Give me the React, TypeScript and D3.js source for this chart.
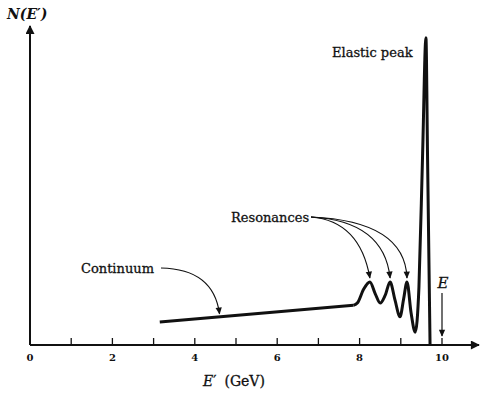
import React from 'react';
import * as d3 from 'd3';

// continuum (straight part), arbitrary count units
const continuumEnergy = [3.15, 7.85];
const continuumCounts = [7.2, 12.4];

// resonance region + elastic peak
const peakEnergy = [7.85, 7.95, 8.1, 8.25, 8.38, 8.5, 8.62, 8.74, 8.86, 8.98, 9.07, 9.15, 9.25, 9.35, 9.44, 9.53, 9.61, 9.65, 9.71];
const peakCounts = [12.4, 13.2, 17.5, 19.7, 16, 13.1, 15.5, 19.7, 14, 8.8, 14.5, 19.7, 10, 4.0, 18, 60, 96, 58, 0];

const xTicks = [1, 2, 3, 4, 5, 6, 7, 8, 9, 10];
const xLabels = [0, 2, 4, 6, 8, 10];
const resonancePeaks = [8.25, 8.74, 9.15];
const continuumArrowAt = 4.6;
const beamEnergy = 10;

const W = 481;
const H = 394;
const FONT = '"DejaVu Serif", "Liberation Serif", serif';

export default function App() {
  const x = d3.scaleLinear().domain([0, 10]).range([30, 442]);
  const y = d3.scaleLinear().domain([0, 100]).range([345, 25]);

  const contPts: [number, number][] = continuumEnergy.map((e, i) => [e, continuumCounts[i]]);
  const peakPts: [number, number][] = peakEnergy.map((e, i) => [e, peakCounts[i]]);

  const straight = d3.line<[number, number]>().x(d => x(d[0])).y(d => y(d[1]));
  const smooth = d3.line<[number, number]>()
    .x(d => x(d[0]))
    .y(d => y(d[1]))
    .curve(d3.curveMonotoneX);

  const contAt = (e: number) => {
    const t = (e - continuumEnergy[0]) / (continuumEnergy[1] - continuumEnergy[0]);
    return continuumCounts[0] + t * (continuumCounts[1] - continuumCounts[0]);
  };

  const resStart = [311, 217];
  const contStart = [161, 268];
  const cx = x(continuumArrowAt);
  const cy = y(contAt(continuumArrowAt)) - 3;

  // slightly heavier than regular, like the printed labels
  const label = { fontFamily: FONT, fill: '#111', stroke: '#111', strokeWidth: 0.3 } as const;

  return (
    <svg width={W} height={H} style={{ position: 'absolute', left: 0, top: 0, background: '#fff' }}>
      <defs>
        <marker id="ah" viewBox="0 0 10 10" refX="9" refY="5" markerWidth="8" markerHeight="7" orient="auto" markerUnits="userSpaceOnUse">
          <path d="M0,0.5 L10,5 L0,9.5 Z" fill="#111" />
        </marker>
        <marker id="axh" viewBox="0 0 10 10" refX="9" refY="5" markerWidth="12" markerHeight="9" orient="auto" markerUnits="userSpaceOnUse">
          <path d="M0,0 L10,5 L0,10 Z" fill="#111" />
        </marker>
      </defs>

      {/* axes */}
      <line x1={x(0)} y1={y(0)} x2={479} y2={y(0)} stroke="#111" strokeWidth={2} markerEnd="url(#axh)" />
      <line x1={x(0)} y1={y(0)} x2={x(0)} y2={26} stroke="#111" strokeWidth={2} markerEnd="url(#axh)" />

      {xTicks.map(t => (
        <line key={t} x1={x(t)} x2={x(t)} y1={y(0)} y2={y(0) - 7} stroke="#111" strokeWidth={1.3} />
      ))}
      {xLabels.map(t => (
        <text key={t} x={x(t)} y={361} textAnchor="middle" fontSize={10} fontWeight="bold" fontFamily={FONT} fill="#111">{t}</text>
      ))}

      <text x={203} y={386} fontSize={14} {...label}>
        <tspan fontStyle="italic">E</tspan><tspan>′</tspan><tspan dx={8}>(GeV)</tspan>
      </text>
      <text x={7} y={19} fontSize={14} fontStyle="italic" fontWeight="bold" fontFamily={FONT} fill="#111">N(E′)</text>

      {/* spectrum */}
      <path d={straight(contPts) ?? ''} fill="none" stroke="#111" strokeWidth={3} strokeLinecap="butt" />
      <path d={smooth(peakPts) ?? ''} fill="none" stroke="#111" strokeWidth={3} strokeLinejoin="round" />

      {/* annotations */}
      <text x={332} y={57} fontSize={13} {...label}>Elastic  peak</text>

      <text x={231} y={222} fontSize={13} {...label}>Resonances</text>
      {resonancePeaks.map((e, i) => {
        const tx = x(e);
        const ty = y(peakCounts[peakEnergy.indexOf(e)]) - 4;
        return (
          <path key={e}
            d={`M${resStart[0]},${resStart[1]} Q${tx - 10 + i * 4},${resStart[1] + 4} ${tx},${ty}`}
            fill="none" stroke="#111" strokeWidth={1.2} markerEnd="url(#ah)" />
        );
      })}

      <text x={81} y={273} fontSize={13} {...label}>Continuum</text>
      <path d={`M${contStart[0]},${contStart[1]} Q${cx - 6},${contStart[1] + 1} ${cx},${cy}`}
        fill="none" stroke="#111" strokeWidth={1.2} markerEnd="url(#ah)" />

      <text x={x(beamEnergy) + 1} y={288} textAnchor="middle" fontSize={15} fontStyle="italic" {...label}>E</text>
      <line x1={x(beamEnergy)} x2={x(beamEnergy)} y1={293} y2={y(0) - 9} stroke="#111" strokeWidth={1.2} markerEnd="url(#ah)" />
    </svg>
  );
}
